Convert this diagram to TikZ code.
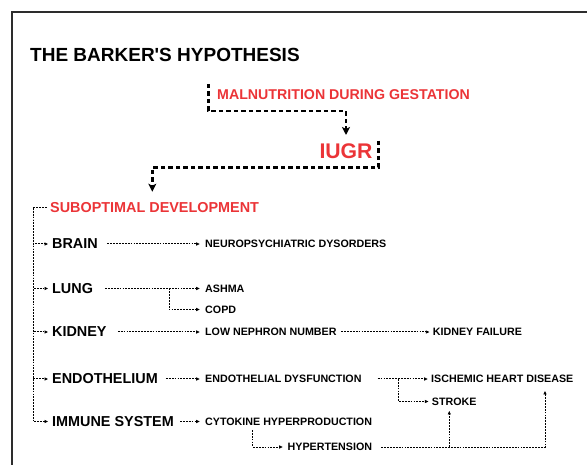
\documentclass[tikz,border=0pt]{standalone}
\usepackage{fontspec}
\setmainfont{Liberation Sans}[Ligatures=TeXOff]
\usetikzlibrary{arrows.meta,calc}
\definecolor{barkred}{RGB}{235,52,55}
\definecolor{framegray}{RGB}{45,45,45}
\newcommand\myfs[1]{\fontsize{#1}{#1}\selectfont}
\begin{document}
\begin{tikzpicture}[x=1pt,y=-1pt,
  txt/.style={inner sep=0pt, anchor=west, font=\bfseries},
  redtxt/.style={txt, text=barkred},
  heavy/.style={line width=2.6pt, dash pattern=on 4.5pt off 3pt, -{Stealth[length=8pt,width=8pt,inset=2pt]}},
  lightline/.style={line width=1pt, dash pattern=on 1.8pt off 1.1pt},
  larrow/.style={lightline, -{Latex[length=3.8pt,width=3.6pt]}}]
\useasboundingbox (0,0) rectangle (587,465);
\draw[framegray,line width=1.6pt] (12,465) -- (12,12) -- (587,12);

% texts
\node[txt,font=\bfseries\myfs{19}] (title) at (30,54.7) {THE BARKER'S HYPOTHESIS};
\node[redtxt,font=\bfseries\myfs{14.2}] (mal) at (217,95) {MALNUTRITION DURING GESTATION};
\node[redtxt,font=\bfseries\myfs{21.2}] (iugr) at (319.3,151.7) {IUGR};
\node[redtxt,font=\bfseries\myfs{14.4}] (sub) at (50,208) {SUBOPTIMAL DEVELOPMENT};

\node[txt,font=\bfseries\myfs{14.4}] (brain) at (52,244) {BRAIN};
\node[txt,font=\bfseries\myfs{14.4}] (lung) at (52,288.5) {LUNG};
\node[txt,font=\bfseries\myfs{14.4}] (kidney) at (52,332) {KIDNEY};
\node[txt,font=\bfseries\myfs{14.4}] (endo) at (52,379) {ENDOTHELIUM};
\node[txt,font=\bfseries\myfs{14.4}] (immune) at (52,421.5) {IMMUNE SYSTEM};

\node[txt,font=\bfseries\myfs{10.7}] (neuro) at (205,244) {NEUROPSYCHIATRIC DYSORDERS};
\node[txt,font=\bfseries\myfs{10.7}] (ashma) at (205,288.5) {ASHMA};
\node[txt,font=\bfseries\myfs{10.7}] (copd) at (205,309.5) {COPD};
\node[txt,font=\bfseries\myfs{10.7}] (lnn) at (205,332) {LOW NEPHRON NUMBER};
\node[txt,font=\bfseries\myfs{10.7}] (kf) at (432.7,332) {KIDNEY FAILURE};
\node[txt,font=\bfseries\myfs{10.7}] (ed) at (205,379) {ENDOTHELIAL DYSFUNCTION};
\node[txt,font=\bfseries\myfs{10.7}] (ihd) at (431,379) {ISCHEMIC HEART DISEASE};
\node[txt,font=\bfseries\myfs{10.7}] (stroke) at (431.7,401.5) {STROKE};
\node[txt,font=\bfseries\myfs{10.7}] (cyto) at (205,421.5) {CYTOKINE HYPERPRODUCTION};
\node[txt,font=\bfseries\myfs{10.7}] (hyp) at (287.5,447) {HYPERTENSION};

% heavy connectors
\draw[heavy,shorten >=9pt] ([shift={(-8.7,-11)}]mal.west) -- ++(0,27) -| (iugr.north);
\draw[heavy,shorten >=11pt] ([shift={(5.6,-11)}]iugr.east) -- ++(0,27) -| ([shift={(-2.3,0)}]sub.north);

% tree trunk
\coordinate (trunk) at ([shift={(-16.7,0)}]sub.west);
\draw[lightline] (trunk) -- ([shift={(-3.3,0)}]sub.west);
\foreach \n in {brain,lung,kidney,endo,immune}
  \draw[larrow] (trunk) |- ([shift={(-3.7,0)}]\n.west);

% rows
\draw[larrow] ([shift={(9.5,0)}]brain.east) -- ([shift={(-5,0)}]neuro.west);
\draw[larrow] ([shift={(12,0)}]lung.east) -- ([shift={(-5,0)}]ashma.west);
\coordinate (lb) at ([shift={(-35.7,0)}]ashma.west);
\draw[larrow] (lb) |- ([shift={(-5,0)}]copd.west);
\draw[larrow] ([shift={(11,0)}]kidney.east) -- ([shift={(-5,0)}]lnn.west);
\draw[larrow] ([shift={(4.5,0)}]lnn.east) -- ([shift={(-3,0)}]kf.west);
\draw[larrow] ([shift={(8,0)}]endo.east) -- ([shift={(-5,0)}]ed.west);
\draw[larrow] ([shift={(16,0)}]ed.east) -- ([shift={(-3,0)}]ihd.west);
\coordinate (eb) at ([shift={(-32.7,0)}]ihd.west);
\draw[larrow] (eb) |- ([shift={(-3,0)}]stroke.west);
\draw[larrow] ([shift={(6,0)}]immune.east) -- ([shift={(-5,0)}]cyto.west);
\draw[larrow] ([shift={(47.7,4.5)}]cyto.south west) |- ([shift={(-4.5,0)}]hyp.west);

% hypertension to stroke and ischemic heart disease
\draw[larrow,shorten >=7.7pt] ([shift={(9,0)}]hyp.east) -| ([shift={(114,0)}]ihd.south west);
\coordinate (sb) at ([shift={(17.6,0)}]stroke.south west);
\draw[larrow,shorten >=5.2pt] (sb |- hyp.east) -- (sb);
\end{tikzpicture}
\end{document}
